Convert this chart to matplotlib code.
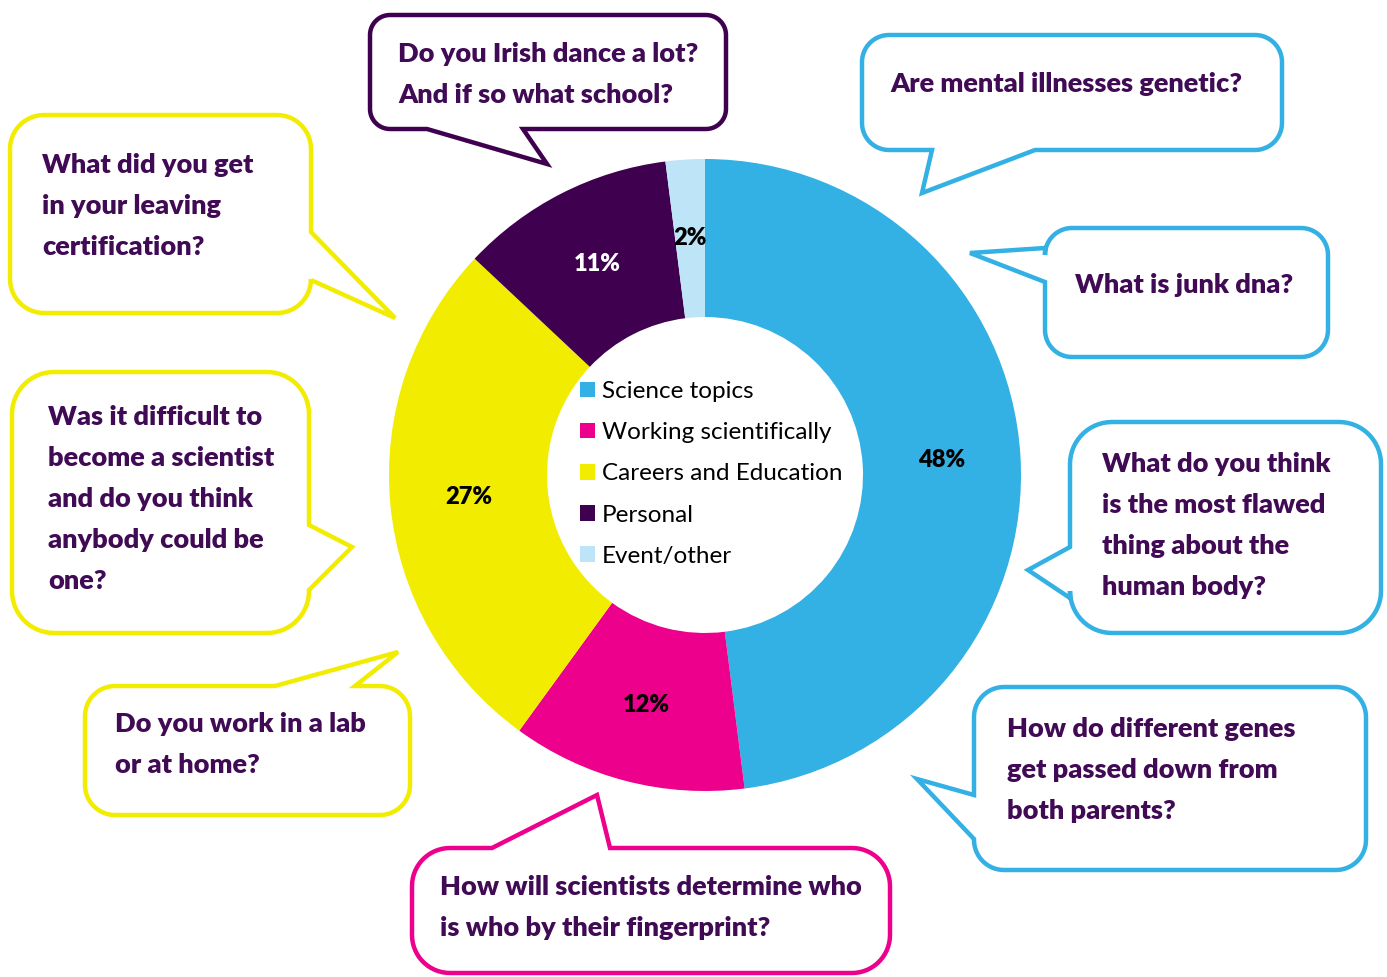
import numpy as np
import matplotlib.pyplot as plt
from matplotlib.path import Path
from matplotlib.patches import PathPatch

plt.rcParams['font.family'] = ['Lato', 'DejaVu Sans']

# donut data
categories = ['Science topics', 'Working scientifically', 'Careers and Education',
              'Personal', 'Event/other']
shares = [48, 12, 27, 11, 2]
colors = ['#33B0E4', '#EC008C', '#F2EC00', '#400050', '#BDE4F7']
pct_colors = ['black', 'black', 'black', 'white', 'black']

# questions in the speech bubbles
questions = [
    ['Do you Irish dance a lot?', 'And if so what school?'],
    ['Are mental illnesses genetic?'],
    ['What did you get', 'in your leaving', 'certification?'],
    ['What is junk dna?'],
    ['Was it difficult to', 'become a scientist', 'and do you think',
     'anybody could be', 'one?'],
    ['What do you think', 'is the most flawed', 'thing about the', 'human body?'],
    ['Do you work in a lab', 'or at home?'],
    ['How do different genes', 'get passed down from', 'both parents?'],
    ['How will scientists determine who', 'is who by their fingerprint?'],
]
question_cat = [3, 0, 2, 0, 2, 0, 2, 0, 1]

# bubble layout in pixels (y down): box, corner radius, side of tail, tail points, text x, first baseline
layout = [
    ((370, 15, 726, 129), 20, 'bottom', ((427, 129), (547, 164), (523, 129)), 398, 62),
    ((862, 35, 1282, 150), 27, 'bottom', ((932, 150), (922, 193), (1035, 150)), 890, 92),
    ((10, 115, 311, 313), 34, 'right', ((311, 232), (395, 318), (311, 280)), 42, 173),
    ((1045, 228, 1328, 357), 27, 'left', ((1045, 248), (970, 253), (1045, 282)), 1075, 293),
    ((12, 372, 309, 633), 42, 'right', ((309, 525), (352, 547), (309, 590)), 48, 425),
    ((1070, 422, 1381, 633), 42, 'left', ((1070, 547), (1028, 570), (1070, 598)), 1102, 472),
    ((85, 686, 410, 815), 30, 'top', ((275, 686), (398, 652), (355, 686)), 115, 732),
    ((974, 687, 1366, 870), 30, 'left', ((974, 839), (917, 779), (974, 795)), 1007, 737),
    ((412, 848, 890, 973), 38, 'top', ((492, 848), (597, 795), (610, 848)), 440, 895),
]
text_color = '#400A55'


def bubble_path(box, r, side, tail):
    x0, y0, x1, y1 = box

    def arc(cx, cy, a0, a1):
        t = np.radians(np.linspace(a0, a1, 16))
        return list(zip(cx + r * np.cos(t), cy + r * np.sin(t)))

    b1, tip, b2 = tail
    keys = {'top': lambda p: p[0], 'right': lambda p: p[1],
            'bottom': lambda p: -p[0], 'left': lambda p: -p[1]}
    bases = sorted([b1, b2], key=keys[side])
    tail_pts = [bases[0], tip, bases[1]]

    pts = arc(x0 + r, y0 + r, 180, 270)
    if side == 'top':
        pts += tail_pts
    pts += arc(x1 - r, y0 + r, 270, 360)
    if side == 'right':
        pts += tail_pts
    pts += arc(x1 - r, y1 - r, 0, 90)
    if side == 'bottom':
        pts += tail_pts
    pts += arc(x0 + r, y1 - r, 90, 180)
    if side == 'left':
        pts += tail_pts
    pts.append(pts[0])
    codes = [Path.MOVETO] + [Path.LINETO] * (len(pts) - 2) + [Path.CLOSEPOLY]
    return Path(pts, codes)


fig = plt.figure(figsize=(13.87, 9.77), dpi=100)
ax = fig.add_axes([0, 0, 1, 1])

wedges, texts, autotexts = ax.pie(
    shares, colors=colors, radius=316, center=(705, 475),
    startangle=-90, counterclock=True, autopct='%d%%', pctdistance=0.75,
    wedgeprops=dict(width=158, linewidth=0),
    textprops=dict(fontsize=17, fontweight='heavy'))
for t, c in zip(autotexts, pct_colors):
    t.set_color(c)

for lines, cat, (box, r, side, tail, tx, ty) in zip(questions, question_cat, layout):
    patch = PathPatch(bubble_path(box, r, side, tail), facecolor='white',
                      edgecolor=colors[cat], lw=3.2, joinstyle='miter', zorder=3)
    ax.add_patch(patch)
    for i, line in enumerate(lines):
        ax.text(tx, ty + i * 41, line, ha='left', va='baseline', fontsize=19.5,
                fontweight='heavy', color=text_color, zorder=4)

ax.legend(wedges, categories, loc='upper left', bbox_to_anchor=(580, 381),
          bbox_transform=ax.transData, frameon=False, prop={'size': 17.5},
          handlelength=0.62, handleheight=0.62, handletextpad=0.28,
          labelspacing=0.83, borderpad=0, borderaxespad=0)

ax.set_xlim(0, 1387)
ax.set_ylim(977, 0)
ax.set_aspect('equal')
ax.axis('off')

fig.savefig('out.png', dpi=100)
